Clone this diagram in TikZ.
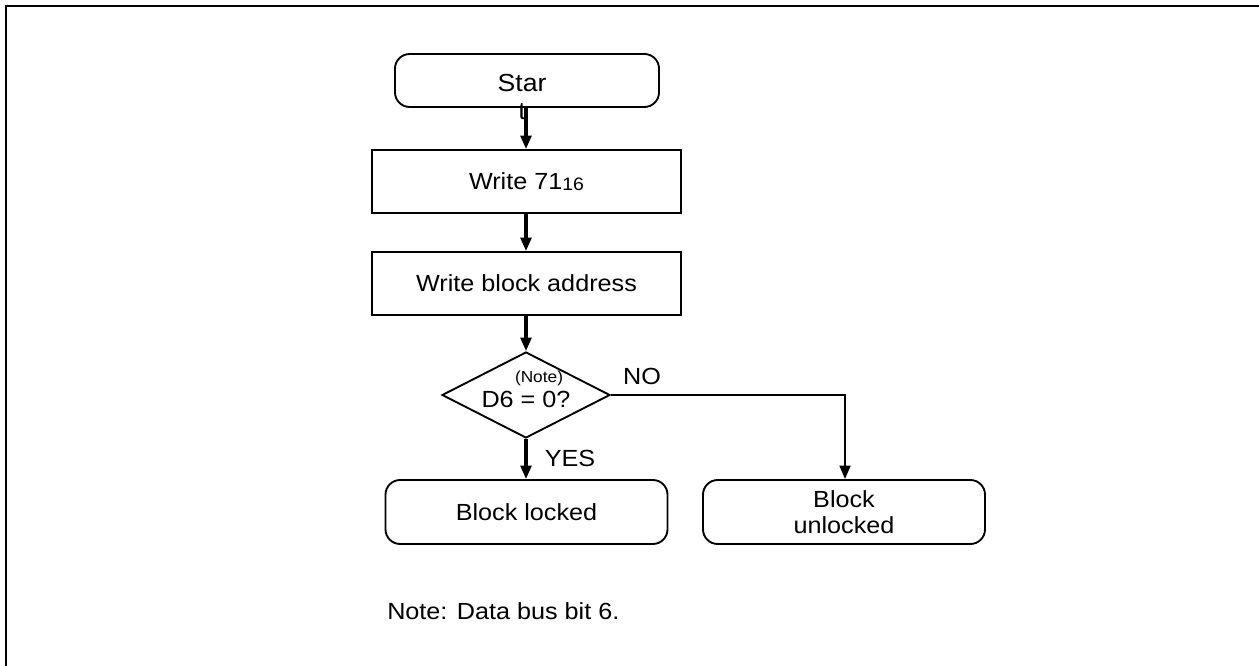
\documentclass[tikz,border=0pt]{standalone}
\usepackage{fontspec}
\setmainfont{Liberation Sans}[FakeStretch=1.08]
\usetikzlibrary{arrows.meta,shapes.geometric}
\begin{document}
\begin{tikzpicture}[x=0.75pt,y=-0.75pt,
  font=\fontsize{17.5}{20}\selectfont,
  box/.style={draw,line width=1.4pt,inner sep=0pt},
  rbox/.style={box,rounded corners=11pt},
  arr/.style={line width=2.4pt,-{Triangle[length=10pt,width=8pt]}},
  lbl/.style={inner sep=0pt}]
\useasboundingbox (0,0) rectangle (1259,666);
\draw[line width=1.8pt] (6,670) -- (6,6) -- (1265,6);
% nodes
\node[rbox,minimum width=198pt,minimum height=39.75pt] (start) at (527,80.5) {};
\node[box,minimum width=231.75pt,minimum height=47.25pt] (w71) at (526.5,181.5)
  {Write 71{\fontsize{13.5}{15}\selectfont\raisebox{-0.5pt}{16}}};
\node[box,minimum width=231.75pt,minimum height=47.25pt] (wba) at (526.5,283.5) {Write block address};
\node[draw,diamond,line width=1.4pt,inner sep=0pt,minimum width=126pt,minimum height=64.5pt] (dec) at (526,395) {};
\node[lbl,font=\fontsize{12}{14}\selectfont] (note) at (539,378) {(Note)};
\node[lbl] (d6) at (526,399) {D6 = 0?};
\node[rbox,minimum width=211.5pt,minimum height=48pt] (locked) at (526.5,512) {Block locked};
\node[rbox,minimum width=211.5pt,minimum height=48pt,align=center] (unlocked) at (844,512) {Block\\unlocked};
\node[lbl] (no) at (642,376) {NO};
\node[lbl] (yes) at (570,458) {YES};
\node[lbl,anchor=west] (footnote) at (387,611) {Note: Data bus bit 6.};
% connectors
\draw[arr] (start.south -| 526,0) -- (w71.north -| 526,0);
\draw[arr] (w71.south -| 526,0) -- (wba.north -| 526,0);
\draw[arr] (wba.south -| 526,0) -- (dec.north);
\draw[arr] (dec.south) -- (locked.north -| 526,0);
\draw[arr,line width=1.8pt] (dec.east) -| (unlocked.north -| 845,0);
% start text, drawn over the connector as in the original
\node[lbl,align=center,font=\fontsize{18.5}{20.5}\selectfont] (starttxt) at (522,97) {Star\\t};
\end{tikzpicture}
\end{document}
